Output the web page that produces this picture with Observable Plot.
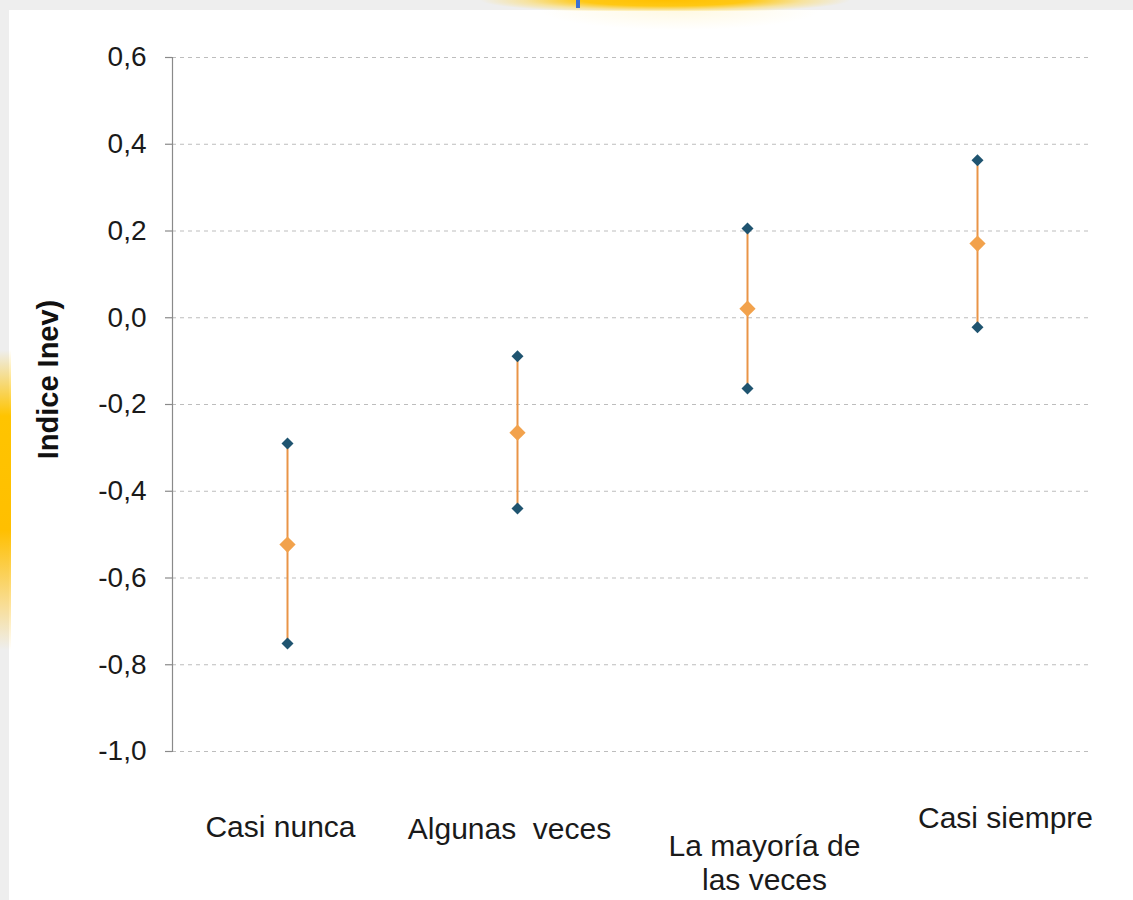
<!DOCTYPE html>
<html>
<head>
<meta charset="utf-8">
<script src="https://cdn.jsdelivr.net/npm/d3@7"></script>
<script src="https://cdn.jsdelivr.net/npm/@observablehq/plot@0.6"></script>
<style>
  html, body { margin: 0; padding: 0; background: #efefef; }
  #wrap { position: relative; width: 1133px; height: 900px; overflow: hidden; background: #eeeeee; }
  #card { position: absolute; left: 9px; top: 10px; right: 0; bottom: 0; background: #ffffff; }
  #topglow { position: absolute; left: 480px; top: 0; width: 370px; height: 11px;
    background: radial-gradient(ellipse 50% 120% at 50% 0%, #ffc000 0%, #ffc814 45%, rgba(255,215,80,0.5) 75%, rgba(255,230,150,0) 100%); }
  #topglow2 { position: absolute; left: 540px; top: 10px; width: 280px; height: 20px;
    background: radial-gradient(ellipse 50% 100% at 50% 0%, rgba(255,235,160,0.3), rgba(255,255,255,0)); }
  #leftglow { position: absolute; left: 0; top: 350px; width: 11px; height: 300px;
    background: linear-gradient(to bottom, rgba(255,200,40,0) 0%, #ffc400 22%, #ffbf00 60%, rgba(255,210,90,0.6) 85%, rgba(255,230,160,0) 100%); }
  #bluebar { position: absolute; left: 576px; top: 0; width: 4px; height: 8px; background: #3c70d2; }
  #chart { position: absolute; left: 0; top: 0; }
  #chart svg { background: transparent !important; }
</style>
</head>
<body>
<div id="wrap">
  <div id="card"></div>
  <div id="topglow"></div>
  <div id="topglow2"></div>
  <div id="leftglow"></div>
  <div id="bluebar"></div>
  <div id="chart"></div>
</div>
<script>
// ---- Data ----
const categories = ["Casi nunca", "Algunas  veces", "La mayoría de\nlas veces", "Casi siempre"];
const means = [-0.523, -0.265, 0.021, 0.171];
const upper = [-0.290, -0.089, 0.206, 0.363];
const lower = [-0.751, -0.440, -0.163, -0.022];
const yTicks = [-1.0, -0.8, -0.6, -0.4, -0.2, 0.0, 0.2, 0.4, 0.6];
const yTitle = "Indice Inev)";

// label placement styles (offsets in px relative to category centre / plot bottom)
const labelStyle = [
  {dx: -7, dy: 85},
  {dx: -8, dy: 87},
  {dx: 17, dy: 138},
  {dx: 28, dy: 76}
];

const rows = categories.map((c, i) => ({cat: c, mean: means[i], hi: upper[i], lo: lower[i]}));

const fmt = v => d3.format(".1f")(v).replace(".", ",").replace("\u2212", "-");

const font = "'Liberation Sans', Arial, sans-serif";
const blue = "#1f5470";
const orange = "#f2a24c";
const lineOrange = "#e99447";

const labelMarks = categories.map((c, i) => Plot.text([c], {
  x: d => d,
  frameAnchor: "bottom",
  lineAnchor: "bottom",
  textAnchor: "middle",
  dx: labelStyle[i].dx,
  dy: labelStyle[i].dy,
  lineHeight: 1.13,
  fontSize: 30,
  fill: "#1a1a1a",
  clip: false
}));

const chart = Plot.plot({
  width: 1133,
  height: 900,
  marginLeft: 172,
  marginRight: 41,
  marginTop: 57,
  marginBottom: 149,
  style: {fontFamily: font, background: "transparent", overflow: "visible"},
  x: {type: "point", domain: categories, padding: 0.5, axis: null},
  y: {domain: [-1, 0.6], axis: null},
  marks: [
    Plot.gridY(yTicks, {stroke: "#bdbdbd", strokeOpacity: 1, strokeDasharray: "4,4", strokeWidth: 1}),
    Plot.frame({anchor: "left", stroke: "#8a8a8a", strokeWidth: 1.2}),
    Plot.axisY(yTicks, {
      tickSize: 7, tickPadding: 19, stroke: "#8a8a8a", strokeWidth: 1.2,
      tickFormat: fmt, fontSize: 28, fill: "#1a1a1a", label: null
    }),
    Plot.text([yTitle], {
      frameAnchor: "left", rotate: -90, textAnchor: "middle", lineAnchor: "middle",
      dx: -124, dy: -25, fontSize: 29, fontWeight: "bold", fill: "#111"
    }),
    Plot.ruleX(rows, {x: "cat", y1: "lo", y2: "hi", stroke: lineOrange, strokeWidth: 2}),
    Plot.dot(rows, {x: "cat", y: "hi", symbol: "diamond2", r: 5.4, fill: blue}),
    Plot.dot(rows, {x: "cat", y: "lo", symbol: "diamond2", r: 5.4, fill: blue}),
    Plot.dot(rows, {x: "cat", y: "mean", symbol: "diamond2", r: 7.3, fill: orange}),
    ...labelMarks
  ]
});

document.getElementById("chart").appendChild(chart);
</script>
</body>
</html>
